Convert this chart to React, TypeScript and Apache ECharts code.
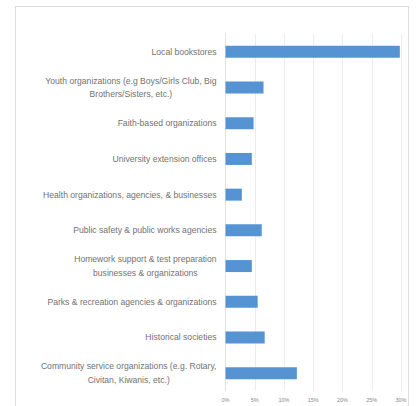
import React, { useEffect, useRef } from "react";
import * as echarts from "echarts";

const categories = [
  "Local bookstores",
  "Youth organizations (e.g Boys/Girls Club, Big\nBrothers/Sisters, etc.)",
  "Faith-based organizations",
  "University extension offices",
  "Health organizations, agencies, & businesses",
  "Public safety & public works agencies",
  "Homework support & test preparation\nbusinesses & organizations",
  "Parks & recreation agencies & organizations",
  "Historical societies",
  "Community service organizations (e.g. Rotary,\nCivitan, Kiwanis, etc.)",
];

const values = [29.8, 6.5, 4.8, 4.5, 2.8, 6.2, 4.5, 5.5, 6.7, 12.2];

const tickLabels = ["0%", "5%", "10%", "15%", "20%", "25%", "30%"];

export default function App() {
  const ref = useRef<HTMLDivElement>(null);
  useEffect(() => {
    if (!ref.current) return;
    const chart = echarts.init(ref.current, undefined, { renderer: "svg" });
    chart.setOption({
      animation: false,
      backgroundColor: "#ffffff",
      graphic: [
        {
          type: "rect",
          shape: { x: 15.5, y: 6.5, width: 393, height: 410 },
          style: { fill: "none", stroke: "#dcdcdc", lineWidth: 1 },
          silent: true,
        },
      ],
      grid: { left: 225.5, right: 15, top: 34, bottom: 15, containLabel: false },
      xAxis: {
        type: "value",
        min: 0,
        max: 30,
        interval: 5,
        axisLine: { show: false },
        axisTick: { show: false },
        axisLabel: {
          fontSize: 5.5,
          color: "#8a8a8a",
          fontFamily: "Liberation Sans",
          margin: 6,
          formatter: (v: number) => tickLabels[Math.round(v / 5)] ?? "",
        },
        splitLine: { show: true, lineStyle: { color: "#ececec", width: 1 } },
      },
      yAxis: {
        type: "category",
        inverse: true,
        data: categories,
        axisLine: { show: true, lineStyle: { color: "#e2e2e2" } },
        axisTick: { show: false },
        axisLabel: {
          fontSize: 8.6,
          lineHeight: 13.5,
          color: "#727272",
          fontFamily: "Liberation Sans",
          margin: 9,
          align: "right",
          formatter: (v: string) =>
            v
              .split("\n")
              .map((line) => `{c|${line}}`)
              .join("\n"),
          rich: {
            c: {
              align: "center",
              fontSize: 8.6,
              lineHeight: 13.5,
              color: "#727272",
              fontFamily: "Liberation Sans",
            },
          },
        },
      },
      series: [
        {
          type: "bar",
          data: values,
          barWidth: 12,
          itemStyle: { color: "#5693d3" },
        },
      ],
    });
    return () => chart.dispose();
  }, []);
  return (
    <div
      ref={ref}
      style={{ position: "fixed", left: 0, top: 0, width: 416, height: 406 }}
    />
  );
}
